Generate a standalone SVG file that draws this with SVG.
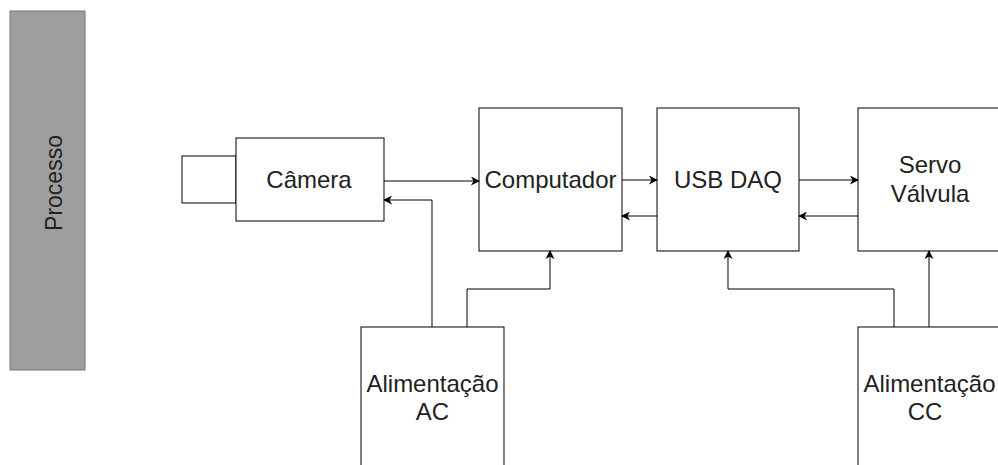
<svg xmlns="http://www.w3.org/2000/svg" width="998" height="465" viewBox="0 0 998 465">
<defs>
<marker id="arr" viewBox="0 0 10 10" refX="9" refY="5" markerWidth="9" markerHeight="9" markerUnits="userSpaceOnUse" orient="auto">
<path d="M0,0 L10,5 L0,10 L3,5 Z" fill="#000"/>
</marker>
<style>
.box{fill:#fff;stroke:#000;stroke-width:1}
.t{font-family:"Liberation Sans",Arial,sans-serif;font-size:24px;fill:#222;text-anchor:middle}
.c{fill:none;stroke:#000;stroke-width:1;marker-end:url(#arr)}
</style>
</defs>
<rect width="998" height="465" fill="#fff"/>
<g id="processo">
<rect x="10" y="11" width="75" height="359" fill="#9e9e9e" stroke="#777" stroke-width="1"/>
<text class="t" style="font-size:23px" transform="translate(62,183) rotate(-90)" x="0" y="0">Processo</text>
</g>
<g id="camera">
<rect class="box" x="182" y="156" width="54" height="47"/>
<rect class="box" x="236" y="138" width="148" height="83"/>
<text class="t" x="309" y="188">Câmera</text>
</g>
<g id="computador">
<rect class="box" x="479" y="108" width="143" height="143"/>
<text class="t" x="550.5" y="188">Computador</text>
</g>
<g id="usbdaq">
<rect class="box" x="657" y="108" width="142" height="143"/>
<text class="t" x="728" y="188">USB DAQ</text>
</g>
<g id="servo">
<rect class="box" x="858" y="108" width="142" height="143"/>
<text class="t" x="930" y="173">Servo</text>
<text class="t" x="930" y="202">Válvula</text>
</g>
<g id="alimAC">
<rect class="box" x="361" y="327" width="143" height="145"/>
<text class="t" x="432.5" y="392">Alimentação</text>
<text class="t" x="432.5" y="420">AC</text>
</g>
<g id="alimCC">
<rect class="box" x="858" y="327" width="145" height="145"/>
<text class="t" x="929.5" y="392">Alimentação</text>
<text class="t" x="925" y="420">CC</text>
</g>
<g id="connectors">
<path class="c" d="M384,181 L479,181"/>
<path class="c" d="M432,327 L432,200 L384,200"/>
<path class="c" d="M467,327 L467,289 L550,289 L550,251"/>
<path class="c" d="M622,180 L657,180"/>
<path class="c" d="M657,216 L622,216"/>
<path class="c" d="M799,180 L858,180"/>
<path class="c" d="M858,216 L799,216"/>
<path class="c" d="M894,327 L894,289 L728,289 L728,251"/>
<path class="c" d="M929,327 L929,251"/>
</g>
</svg>
